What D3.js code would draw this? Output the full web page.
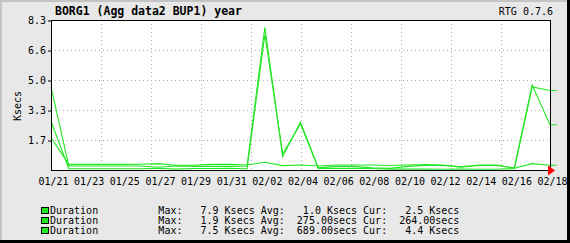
<!DOCTYPE html>
<html>
<head>
<meta charset="utf-8">
<script src="https://cdn.jsdelivr.net/npm/d3@7"></script>
<style>
  body { margin: 0; background: #e8e8e8; }
  text { font-family: "DejaVu Sans Mono", monospace; fill: #000; }
</style>
</head>
<body>
<svg id="rtg"></svg>
<script>
// chart data (values in Ksecs, one point per day, last one is the partial day)
let days = ["2005-01-21", "2005-01-22", "2005-01-23", "2005-01-24", "2005-01-25", "2005-01-26",
  "2005-01-27", "2005-01-28", "2005-01-29", "2005-01-30", "2005-01-31", "2005-02-01",
  "2005-02-02", "2005-02-03", "2005-02-04", "2005-02-05", "2005-02-06", "2005-02-07",
  "2005-02-08", "2005-02-09", "2005-02-10", "2005-02-11", "2005-02-12", "2005-02-13",
  "2005-02-14", "2005-02-15", "2005-02-16", "2005-02-17", "2005-02-18", "2005-02-18T09:00"];
let series1 = [4.6, 0.22, 0.22, 0.22, 0.22, 0.22, 0.15, 0.22, 0.2, 0.2, 0.2, 0.22, 7.9, 0.75, 2.65,
  0.12, 0.2, 0.2, 0.12, 0.09, 0.2, 0.25, 0.25, 0.15, 0.25, 0.25, 0.12, 4.7, 2.5, 2.5];
let series2 = [1.8, 0.31, 0.31, 0.31, 0.31, 0.32, 0.35, 0.26, 0.26, 0.31, 0.31, 0.28, 0.43, 0.24, 0.28,
  0.22, 0.28, 0.28, 0.28, 0.25, 0.28, 0.3, 0.28, 0.18, 0.28, 0.28, 0.1, 0.35, 0.26, 0.26];
let series3 = [2.7, 0.07, 0.07, 0.07, 0.07, 0.07, 0.1, 0.05, 0.08, 0.08, 0.1, 0.07, 7.5, 0.9, 2.55,
  0.09, 0.09, 0.1, 0.08, 0.05, 0.05, 0.05, 0.04, 0.05, 0.04, 0.04, 0.08, 4.6, 4.4, 4.4];
let xLabels = ["01/21", "01/23", "01/25", "01/27", "01/29", "01/31", "02/02", "02/04",
  "02/06", "02/08", "02/10", "02/12", "02/14", "02/16", "02/18"];
let yTicks = [1.66, 3.32, 4.98, 6.64, 8.3];
let legendNames = ["Duration", "Duration", "Duration"];
let legendMax = ["7.9 Ksecs", "1.9 Ksecs", "7.5 Ksecs"];
let legendAvg = ["1.0 Ksecs", "275.00secs", "689.00secs"];
let legendCur = ["2.5 Ksecs", "264.00secs", "4.4 Ksecs"];

// sizes
let widthSVG = 570;
let heightSVG = 243;
let plot = { left: 51, right: 550, top: 20, bottom: 170 };
let lineColor = "#22e622";

let SVG = d3.select("svg#rtg")
  .attr("width", widthSVG)
  .attr("height", heightSVG);

// frame: grey top/left, black bottom/right
SVG.append("rect").attr("width", widthSVG).attr("height", heightSVG).style("fill", "#e8e8e8");
SVG.append("rect").attr("x", 0).attr("y", 0).attr("width", widthSVG).attr("height", 2).style("fill", "#c4c4c4");
SVG.append("rect").attr("x", 0).attr("y", 0).attr("width", 2).attr("height", heightSVG).style("fill", "#c4c4c4");
SVG.append("rect").attr("x", 0).attr("y", heightSVG - 3).attr("width", widthSVG).attr("height", 3).style("fill", "#000");
SVG.append("rect").attr("x", widthSVG - 3).attr("y", 0).attr("width", 3).attr("height", heightSVG).style("fill", "#000");

// scales
let parseDay = d3.isoParse;
let x = d3.scaleTime()
  .domain([parseDay("2005-01-21"), parseDay("2005-02-18")])
  .range([plot.left, plot.right]);
let y = d3.scaleLinear().domain([0, 8.3]).range([plot.bottom, plot.top]);

// plot background
SVG.append("rect")
  .attr("x", plot.left).attr("y", plot.top)
  .attr("width", plot.right - plot.left).attr("height", plot.bottom - plot.top)
  .style("fill", "#fff");

// grid lines
let gridG = SVG.append("g").attr("class", "grid")
  .style("stroke", "#aaa").style("stroke-dasharray", "1,3").attr("shape-rendering", "crispEdges");
gridG.selectAll("line.h").data(yTicks.slice(0, -1)).enter().append("line")
  .attr("x1", plot.left).attr("x2", plot.right)
  .attr("y1", d => Math.round(y(d)) + 0.5).attr("y2", d => Math.round(y(d)) + 0.5);
gridG.selectAll("line.v").data(d3.range(plot.left + 50, plot.right, 50)).enter().append("line")
  .attr("x1", d => d + 0.5).attr("x2", d => d + 0.5)
  .attr("y1", plot.top).attr("y2", plot.bottom);

// series lines
let rows = days.map((d, i) => ({ t: parseDay(d), v: [series1[i], series2[i], series3[i]] }));
let lineGen = k => d3.line().x(d => x(d.t)).y(d => y(d.v[k]))(rows);
SVG.selectAll("path.series").data([0, 1, 2]).enter().append("path")
  .attr("class", "series")
  .attr("d", k => lineGen(k))
  .style("fill", "none")
  .style("stroke", lineColor)
  .style("stroke-width", "1.1px");

// plot border
SVG.append("rect")
  .attr("x", plot.left + 0.5).attr("y", plot.top + 0.5)
  .attr("width", plot.right - plot.left).attr("height", plot.bottom - plot.top)
  .style("fill", "none").style("stroke", "#000").attr("shape-rendering", "crispEdges");

// red arrow at end of x axis
SVG.append("path")
  .attr("d", `M${plot.right - 2},${plot.bottom - 4.5}L${plot.right + 5},${plot.bottom + 0.5}L${plot.right - 2},${plot.bottom + 5.5}Z`)
  .style("fill", "#f00");

// y axis labels and ticks
let yAxis = d3.axisLeft(y).tickValues(yTicks).tickSize(3).tickPadding(2).tickFormat(d => d.toFixed(1));
let yAxisG = SVG.append("g").attr("transform", `translate(${plot.left}, 0.5)`).call(yAxis);
yAxisG.select(".domain").remove();
yAxisG.selectAll("text").style("font-size", "10px").style("font-family", "DejaVu Sans Mono");

// x axis labels
let xAxis = d3.axisBottom(x)
  .tickValues(xLabels.map(s => parseDay("2005-" + s.replace("/", "-"))))
  .tickSize(0).tickPadding(8)
  .tickFormat(d3.timeFormat("%m/%d"));
let xAxisG = SVG.append("g").attr("transform", `translate(2, ${plot.bottom})`).call(xAxis);
xAxisG.select(".domain").remove();
xAxisG.selectAll("text").style("font-size", "10px").style("font-family", "DejaVu Sans Mono");

// title texts
SVG.append("text").text("BORG1 (Agg data2 BUP1) year")
  .attr("x", 55).attr("y", 15)
  .style("font-size", "11.5px").style("font-weight", "bold");
SVG.append("text").text("RTG 0.7.6")
  .attr("x", 553).attr("y", 15)
  .style("text-anchor", "end").style("font-size", "10px");
SVG.append("text").text("Ksecs")
  .attr("transform", "translate(21, 106) rotate(-90)")
  .style("text-anchor", "middle").style("font-size", "10px");

// legend
let legendG = SVG.selectAll("g.legend").data(legendNames).enter().append("g")
  .attr("class", "legend")
  .attr("transform", (d, i) => `translate(0, ${214 + i * 10})`);
legendG.append("rect")
  .attr("x", 41.5).attr("y", -6.5).attr("width", 7).attr("height", 6)
  .style("fill", lineColor).style("stroke", "#000").style("stroke-width", "1px");
legendG.append("text")
  .attr("x", 50)
  .style("font-size", "10px")
  .style("white-space", "pre")
  .text((d, i) => d.padEnd(18) + "Max:" + legendMax[i].padStart(12) +
    " Avg:" + legendAvg[i].padStart(12) + " Cur:" + legendCur[i].padStart(12));
</script>
</body>
</html>
